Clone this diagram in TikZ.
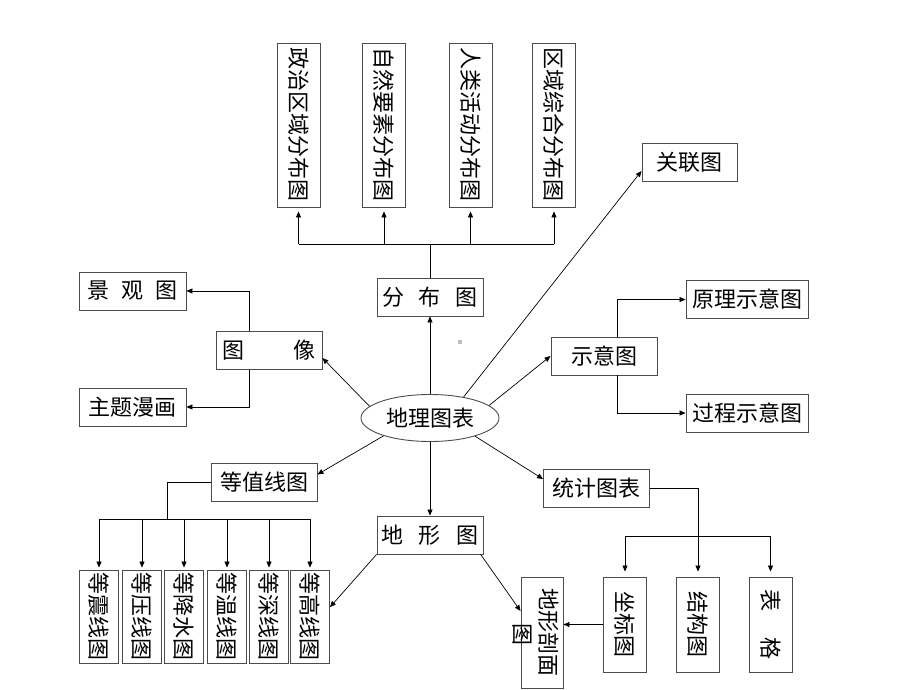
\documentclass[tikz,border=0pt]{standalone}
\usepackage{fontspec}
\usepackage{graphicx}
\setmainfont{Noto Sans CJK SC}
\usetikzlibrary{shapes.geometric,arrows.meta}

\newcommand{\vtext}[1]{\rotatebox{-90}{#1}}

\begin{document}
\begin{tikzpicture}[x=1pt,y=-1pt,
	every node/.style={font=\fontsize{22}{25}\selectfont, inner sep=0pt},
	hbox/.style={draw=black!70, line width=0.9pt, minimum width=106pt, minimum height=38pt},
	vbox/.style={draw=black!70, line width=0.9pt, minimum width=43pt, minimum height=164pt},
	sbox/.style={draw=black!70, line width=0.9pt, minimum width=39pt, minimum height=93pt},
	tbox/.style={draw=black!70, line width=0.9pt, minimum width=43pt, minimum height=95pt},
	link/.style={line width=0.7pt},
	arr/.style={link, -{Triangle[length=6pt,width=5pt]}}]
		\useasboundingbox (0,0) rectangle (920,690);
		\node[ellipse, draw=black!70, line width=0.9pt, minimum width=138pt, minimum height=47pt] (dl) at (430,418) {地理图表};
		% top
		\node[hbox] (fb) at (430,297) {分\hspace{0.65em}布\hspace{0.65em}图};
		\node[vbox] (fl1) at (298.5,125) {\vtext{政治区域分布图}};
		\node[vbox] (fl2) at (384,125) {\vtext{自然要素分布图}};
		\node[vbox] (fl3) at (470.5,125) {\vtext{人类活动分布图}};
		\node[vbox] (fl4) at (554,125) {\vtext{区域综合分布图}};
		\coordinate (fbbus) at (430,244);
		% right
		\node[hbox, minimum width=95pt] (gl) at (689.5,162.5) {关联图};
		\node[hbox] (sy) at (604,356) {示意图};
		\node[hbox, minimum width=122pt] (yl) at (747,299.5) {原理示意图};
		\node[hbox, minimum width=122pt] (gc) at (747,413) {过程示意图};
		% left
		\node[hbox] (tx) at (269,350.5) {图\hspace{2.2em}像};
		\node[hbox, minimum width=107pt] (jgt) at (132.5,291) {景\hspace{0.55em}观\hspace{0.55em}图};
		\node[hbox, minimum width=107pt] (zt) at (132.5,407) {主题漫画};
		\node[hbox] (dz) at (264,482) {等值线图};
		\coordinate (dzbus) at (167,519);
		\node[sbox] (dg1) at (99,616.5) {\vtext{等震线图}};
		\node[sbox] (dg2) at (142,616.5) {\vtext{等压线图}};
		\node[sbox] (dg3) at (184,616.5) {\vtext{等降水图}};
		\node[sbox] (dg4) at (227,616.5) {\vtext{等温线图}};
		\node[sbox] (dg5) at (269,616.5) {\vtext{等深线图}};
		\node[sbox] (dg6) at (310,616.5) {\vtext{等高线图}};
		% bottom
		\node[hbox] (dx) at (430,535) {地\hspace{0.7em}形\hspace{0.7em}图};
		\node[draw=black!70, line width=0.9pt, minimum width=42pt, minimum height=111pt] (pm) at (542,632.5) {\hspace*{14pt}\vtext{地形剖面}};
		\node (pmt) at (522,634) {\vtext{图}};
		\node[hbox] (tj) at (596.5,488.5) {统计图表};
		\coordinate (tjbus) at (697,536);
		\node[tbox] (zb) at (625,624.5) {\vtext{坐标图}};
		\node[tbox] (jg) at (698,624.5) {\vtext{结构图}};
		\node[tbox] (bg) at (770.5,624.5) {\vtext{表\hspace{1.15em}格}};
		\fill[black!25] (458,340) rectangle (462,344);

		\draw[arr] (dl.north) -- (fb.south);
		\draw[link] (fb.north) -- (fb.north |- fbbus);
		\draw[link] (fl1.south |- fbbus) -- (fl4.south |- fbbus);
		\foreach \n in {fl1,fl2,fl3,fl4} \draw[arr, shorten >=4pt] (\n.south |- fbbus) -- (\n.south);
		\draw[arr] (dl.32) -- (gl.190);
		\draw[arr] (dl.12) -- (sy.west);
		\draw[arr] ([xshift=13pt]sy.north) |- (yl.west);
		\draw[arr] ([xshift=13pt]sy.south) |- (gc.west);
		\draw[arr] (dl.169) -- (tx.-8);
		\draw[arr] ([xshift=-20pt]tx.north) |- (jgt.east);
		\draw[arr] ([xshift=-20pt]tx.south) |- (zt.east);
		\draw[arr] (dl.201) -- (dz.8);
		\draw[link] (dz.west) -| (dzbus);
		\draw[link] (dzbus -| dg1.north) -- (dzbus -| dg6.north);
		\foreach \i in {1,...,6} \draw[arr, shorten >=2pt] (dzbus -| dg\i.north) -- (dg\i.north);
		\draw[arr] (dl.south) -- (dx.north);
		\draw[arr] (dx.south west) -- (dg6.25);
		\draw[arr] (dx.-21) -- (pm.135);
		\draw[arr] (dl.338) -- (tj.170);
		\draw[arr, shorten >=5pt] (tj.east) -| (jg.north);
		\draw[link, {Triangle[length=6pt,width=5pt]}-{Triangle[length=6pt,width=5pt]}, shorten <=5pt, shorten >=5pt] (zb.north) -- (zb.north |- tjbus) -- (bg.north |- tjbus) -- (bg.north);
		\draw[arr] (zb.west) -- (zb.west -| pm.east);
	\end{tikzpicture}
\end{document}
